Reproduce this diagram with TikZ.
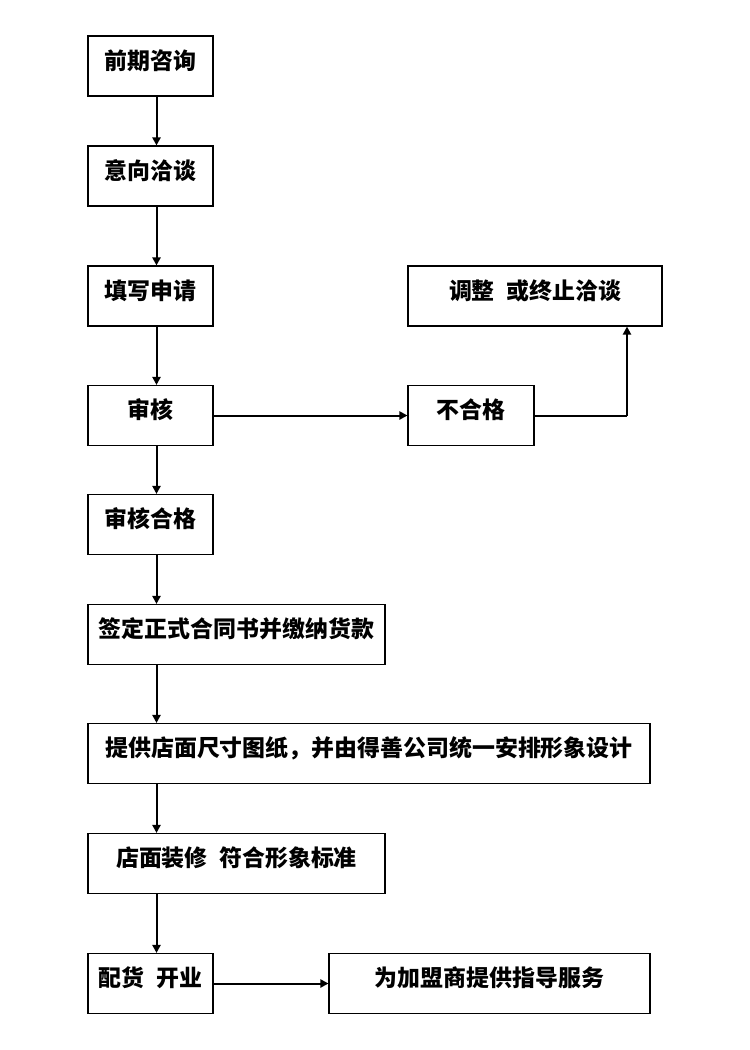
\documentclass[tikz,border=0pt]{standalone}
\usepackage{fontspec}
\newfontfamily\cjk{Noto Sans CJK SC}
\usetikzlibrary{arrows.meta}
\begin{document}
\begin{tikzpicture}[x=0.75pt,y=-0.75pt,
  box/.style={draw,line width=0.8pt,minimum height=45pt,inner sep=0pt,
    font=\cjk\bfseries\fontsize{17.2}{20}\selectfont,text height=12pt,text depth=7.3pt},
  arr/.style={line width=1.5pt,-{Triangle[length=6pt,width=6pt]}}]
\fill[white] (0,0) rectangle (750,1050);
\useasboundingbox (0,0) rectangle (750,1050);
\node[box,minimum width=93.75pt] (n1) at (150.5,66) {前期咨询};
\node[box,minimum width=93.75pt] (n2) at (150.5,176) {意向洽谈};
\node[box,minimum width=93.75pt] (n3) at (150.5,296) {填写申请};
\node[box,minimum width=93.75pt] (n4) at (150.5,415.5) {审核};
\node[box,minimum width=93.75pt] (n5) at (150.5,524.5) {审核合格};
\node[box,minimum width=222.75pt] (n6) at (236.5,634.5) {签定正式合同书并缴纳货款};
\node[box,minimum width=421.5pt] (n7) at (369,753.5) {提供店面尺寸图纸，并由得善公司统一安排形象设计};
\node[box,minimum width=222.75pt] (n8) at (236.5,863.5) {店面装修\hspace{0.5em}符合形象标准};
\node[box,minimum width=93.75pt] (n9) at (150.5,983.5) {配货\hspace{0.5em}开业};
\node[box,minimum width=240.75pt] (n10) at (489.5,983.5) {为加盟商提供指导服务};
\node[box,minimum width=94.5pt] (bhg) at (471,415.5) {不合格};
\node[box,minimum width=190.5pt] (tz) at (535,296) {调整\hspace{0.5em}或终止洽谈};
\coordinate (ax) at (156.5,0);
\coordinate (up) at (627,0);
\draw[arr] (n1.south -| ax) -- (n2.north -| ax);
\draw[arr] (n2.south -| ax) -- (n3.north -| ax);
\draw[arr] (n3.south -| ax) -- (n4.north -| ax);
\draw[arr] (n4.south -| ax) -- (n5.north -| ax);
\draw[arr] (n5.south -| ax) -- (n6.north -| ax);
\draw[arr] (n6.south -| ax) -- (n7.north -| ax);
\draw[arr] (n7.south -| ax) -- (n8.north -| ax);
\draw[arr] (n8.south -| ax) -- (n9.north -| ax);
\draw[arr] (n4.east) -- (bhg.west);
\draw[line width=1.5pt] (bhg.east) -- (bhg.east -| up);
\draw[arr] (bhg.east -| up) -- (tz.south -| up);
\draw[arr] (n9.east) -- (n10.west);
\end{tikzpicture}
\end{document}
